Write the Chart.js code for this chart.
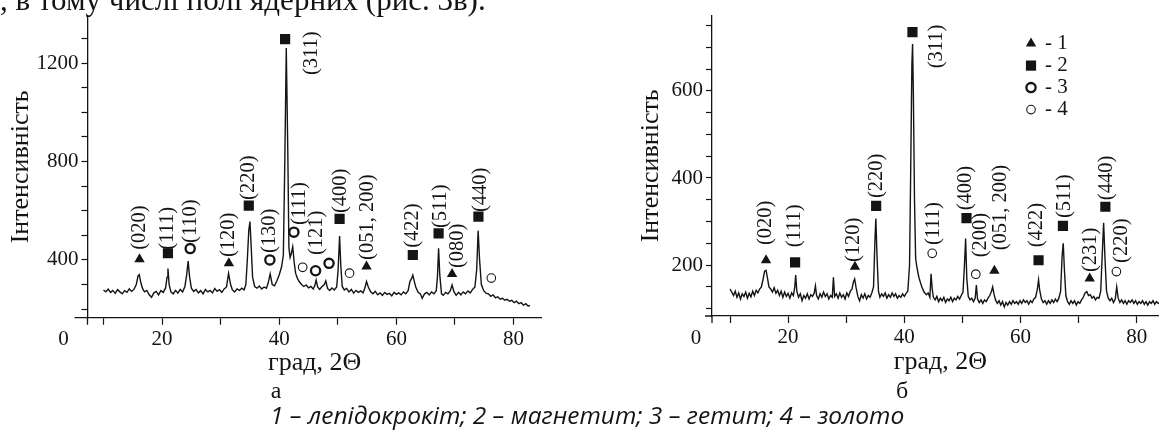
<!DOCTYPE html>
<html>
<head>
<meta charset="utf-8">
<script src="https://cdn.jsdelivr.net/npm/chart.js@4.4.1/dist/chart.umd.min.js"></script>
<style>
html, body { margin:0; padding:0; background:#fff; width:1159px; height:433px; overflow:hidden; }
body { position:relative; font-family:"Liberation Serif", "Times New Roman", serif; color:#141414; }
.txt { position:absolute; white-space:nowrap; z-index:2; }
#top { left:0; top:-16.5px; font-size:31px; line-height:31px; }
.sub { top:378px; font-size:24px; line-height:24px; transform:translateX(-50%); }
#subA { left:276px; }
#subB { left:902px; }
#caption { left:270px; top:403px; font-family:"Open Sans", sans-serif; font-style:italic; font-size:24.5px; line-height:24.5px; }
canvas { position:absolute; top:0; }
#chartA { left:0; }
#chartB { left:620px; }
</style>
</head>
<body>
<div class="txt" id="top">, в тому числі полі ядерних (рис. 3в).</div>
<canvas id="chartA" width="560" height="380"></canvas>
<canvas id="chartB" width="560" height="380"></canvas>
<div class="txt sub" id="subA">а</div>
<div class="txt sub" id="subB">б</div>
<div class="txt" id="caption">1 – лепідокрокіт; 2 – магнетит; 3 – гетит; 4 – золото</div>
<script>
// ---- рис. а : дифрактограма ----
const thetaA = [10.0,10.4,10.8,11.2,11.6,12.0,12.4,12.8,13.2,13.6,14.0,14.4,14.8,15.2,15.6,15.9,16.1,16.4,16.7,17.0,
  17.4,17.8,18.2,18.6,19.0,19.4,19.8,20.2,20.6,20.85,21.0,21.2,21.5,21.9,22.3,22.7,23.1,23.5,23.9,24.2,
  24.45,24.7,25.0,25.4,25.8,26.2,26.6,27.0,27.4,27.8,28.2,28.6,29.0,29.4,29.8,30.2,30.6,31.0,31.35,31.7,
  32.0,32.4,32.8,33.2,33.6,34.0,34.3,34.55,34.8,35.0,35.2,35.45,35.8,36.2,36.6,37.0,37.4,37.8,38.1,38.45,
  38.8,39.2,39.6,40.0,40.4,40.7,40.95,41.2,41.45,41.65,41.85,42.05,42.3,42.55,42.8,43.1,43.4,43.8,44.2,44.6,
  45.0,45.4,45.8,46.1,46.3,46.55,46.9,47.3,47.7,47.95,48.25,48.6,49.0,49.4,49.8,50.05,50.3,50.5,50.75,51.1,
  51.5,51.9,52.3,52.7,53.1,53.5,53.9,54.3,54.6,54.9,55.2,55.6,56.0,56.4,56.8,57.2,57.6,58.0,58.4,58.8,
  59.2,59.6,60.0,60.4,60.8,61.2,61.6,62.0,62.3,62.6,62.8,63.0,63.3,63.7,64.1,64.4,64.8,65.2,65.6,66.0,
  66.4,66.8,67.0,67.2,67.4,67.7,68.0,68.4,68.8,69.2,69.5,69.8,70.2,70.6,71.0,71.4,71.8,72.2,72.6,73.0,
  73.4,73.7,73.95,74.2,74.5,74.9,75.3,75.7,76.1,76.5,76.9,77.3,77.7,78.1,78.5,78.9,79.3,79.7,80.1,80.5,
  80.9,81.3,81.7,82.1,82.5,82.8];
const intA = [278,270,281,268,276,264,279,270,262,275,268,282,272,280,300,335,340,305,282,270,
  276,258,248,266,272,258,275,268,286,330,365,300,270,262,276,265,280,270,292,340,
  395,330,285,272,280,266,275,262,280,270,276,266,284,272,279,268,282,290,345,300,
  278,270,282,276,285,278,300,400,520,556,460,330,292,285,294,282,290,285,305,343,
  300,295,315,340,372,420,800,1262,860,450,410,425,454,390,345,325,312,300,292,298,
  286,292,282,298,318,290,280,292,300,315,284,276,286,278,290,360,497,380,292,278,
  284,270,280,265,276,268,274,266,285,312,290,270,262,272,258,266,256,268,260,264,
  254,268,260,266,258,270,262,275,312,325,338,318,290,268,262,244,262,268,258,270,
  262,275,330,447,340,262,256,268,262,275,298,272,256,268,258,270,262,274,266,280,
  290,360,519,400,300,275,265,262,252,258,246,250,240,244,236,240,232,236,226,232,
  222,226,216,222,212,215];

// фази, рис. а
const lepThetaA = [16.15, 31.4, 54.9, 69.5];
const lepIntA = [403, 386, 373, 343];
const magThetaA = [21.0, 34.8, 41.0, 50.3, 62.8, 67.2, 74.0];
const magIntA = [427, 621, 1298, 567, 420, 508, 576];
const gthThetaA = [24.8, 38.4, 42.5, 46.2, 48.5];
const gthIntA = [446, 400, 513, 356, 386];
const auThetaA = [44.0, 52.0, 76.2];
const auIntA = [370, 346, 326];

// індекси (hkl), рис. а
const hklA = ['(020)','(111)','(110)','(120)','(220)','(130)','(311)','(111)','(121)','(400)','(051, 200)','(422)','(511)','(080)','(440)'];
const hklThetaA = [16.15, 20.95, 24.8, 31.3, 34.85, 38.4, 45.5, 43.4, 46.3, 50.5, 55.1, 62.8, 67.5, 70.45, 74.3];
const hklIntA = [441, 441, 469, 412, 644, 428, 1152, 542, 420, 591, 400, 449, 530, 367, 595];

// ---- рис. б : дифрактограма ----
const thetaB = [10.0,10.3,10.6,10.9,11.2,11.5,11.8,12.1,12.4,12.7,13.0,13.3,13.6,13.9,14.2,14.5,14.8,15.1,15.4,15.7,
  15.95,16.2,16.45,16.7,17.0,17.3,17.6,17.9,18.2,18.5,18.8,19.1,19.4,19.7,20.0,20.3,20.6,20.9,21.15,21.3,
  21.5,21.8,22.1,22.4,22.7,23.0,23.3,23.6,23.9,24.2,24.5,24.7,24.9,25.2,25.5,25.8,26.1,26.4,26.7,27.0,
  27.3,27.6,27.8,28.0,28.3,28.6,28.9,29.2,29.5,29.8,30.1,30.4,30.7,31.0,31.25,31.45,31.7,32.0,32.3,32.6,
  32.9,33.2,33.5,33.8,34.1,34.4,34.7,34.95,35.1,35.3,35.55,35.8,36.1,36.4,36.7,37.0,37.3,37.6,37.9,38.2,
  38.5,38.8,39.1,39.4,39.7,40.0,40.3,40.6,40.9,41.1,41.3,41.42,41.55,41.75,41.95,42.15,42.5,43.0,43.4,43.8,
  44.1,44.4,44.6,44.8,45.0,45.3,45.6,45.9,46.2,46.5,46.8,47.1,47.4,47.7,48.0,48.3,48.6,48.9,49.2,49.5,
  49.8,50.1,50.35,50.55,50.75,51.0,51.3,51.6,51.9,52.2,52.4,52.6,52.9,53.2,53.5,53.8,54.1,54.4,54.7,55.0,
  55.2,55.45,55.7,56.0,56.3,56.6,56.9,57.2,57.5,57.8,58.1,58.4,58.7,59.0,59.3,59.6,59.9,60.2,60.5,60.8,
  61.1,61.4,61.7,62.0,62.3,62.6,62.9,63.1,63.3,63.6,63.9,64.2,64.5,64.8,65.1,65.4,65.7,66.0,66.3,66.6,
  66.9,67.15,67.35,67.55,67.8,68.1,68.4,68.7,69.0,69.3,69.6,69.9,70.2,70.5,70.8,71.1,71.4,71.7,72.0,72.3,
  72.6,72.9,73.2,73.5,73.8,74.05,74.3,74.55,74.8,75.1,75.4,75.7,76.0,76.3,76.55,76.8,77.1,77.4,77.7,78.0,
  78.3,78.6,78.9,79.2,79.5,79.8,80.1,80.4,80.7,81.0,81.3,81.6,81.9,82.2,82.5,82.8,83.1,83.4,83.7,84.0,
  84.3,84.6,85.0];
const intB = [145,138,130,140,126,136,122,134,128,138,124,135,127,140,130,142,136,145,150,168,
  186,188,170,150,145,138,148,135,142,130,140,126,138,128,135,124,136,130,150,177,
  140,126,134,118,130,124,134,122,132,128,136,152,130,122,134,126,138,128,134,122,
  130,126,172,128,134,124,136,126,132,122,136,128,140,145,162,168,148,128,118,132,
  124,134,122,130,126,136,150,260,307,220,140,126,134,128,136,124,132,126,136,128,
  134,124,130,126,134,128,135,140,200,420,660,708,600,350,215,196,172,150,138,132,
  136,126,180,145,126,120,128,116,124,118,126,114,122,118,126,116,124,120,128,122,
  130,138,200,261,170,128,120,124,116,124,154,122,114,120,112,120,116,124,130,140,
  150,132,120,112,118,108,116,104,114,108,116,110,118,112,116,110,118,112,120,114,
  118,110,118,114,122,126,145,166,142,122,114,118,110,118,112,120,114,122,116,124,
  140,220,250,190,130,116,110,118,112,118,108,116,112,120,126,136,139,130,132,124,
  128,120,126,124,140,220,297,210,140,124,118,124,114,122,150,124,114,120,112,118,
  110,118,114,120,112,118,110,116,112,118,110,116,108,116,112,118,110,116,112,114,
  110,116,112];

// фази, рис. б
const lepThetaB = [16.2, 31.5, 55.5, 71.9];
const lepIntB = [211, 196, 187, 169];
const magThetaB = [21.2, 35.15, 41.4, 50.7, 63.1, 67.3, 74.6];
const magIntB = [206, 336, 735, 308, 211, 290, 334];
const auThetaB = [44.8, 52.3, 76.5];
const auIntB = [227, 179, 185];

// індекси (hkl), рис. б
const hklB = ['(020)','(111)','(120)','(220)','(311)','(111)','(400)','(200)','(051, 200)','(422)','(511)','(231)','(440)','(220)'];
const hklThetaB = [16.2, 21.2, 31.25, 35.3, 45.6, 45.06, 50.5, 53.05, 56.5, 62.8, 67.6, 72.0, 74.85, 77.4];
const hklIntB = [246, 241, 207, 354, 652, 246, 326, 218, 234, 241, 308, 184, 349, 205];

// легенда
const legendText = ['- 1', '- 2', '- 3', '- 4'];

const ink = '#141414';
const serif = '"Liberation Serif", "Times New Roman", serif';

function toXY(xs, ys) {
  return xs.map((v, i) => ({x: v, y: ys[i]}));
}

// стилі маркерів фаз
const lepStyle = {pointStyle: 'triangle', pointRadius: 6, pointBackgroundColor: ink, pointBorderWidth: 0};
const magStyle = {pointStyle: 'rect', pointRadius: 7.2, pointBackgroundColor: ink, pointBorderWidth: 0};
const gthStyle = {pointStyle: 'circle', pointRadius: 4.6, pointBackgroundColor: 'rgba(0,0,0,0)', pointBorderColor: ink, pointBorderWidth: 2.3};
const auStyle = {pointStyle: 'circle', pointRadius: 4.3, pointBackgroundColor: 'rgba(0,0,0,0)', pointBorderColor: ink, pointBorderWidth: 1.1};

function markers(xs, ys, st) {
  return Object.assign({data: toXY(xs, ys), showLine: false, order: 0}, st);
}

//підписи (hkl) повернуті на 90 градусів
function hklPlugin(text, theta, level) {
  return {
    id: 'hkl',
    afterDatasetsDraw(chart) {
      const {ctx, scales} = chart;
      ctx.save();
      ctx.fillStyle = ink;
      ctx.font = '20.5px ' + serif;
      ctx.textAlign = 'left';
      ctx.textBaseline = 'middle';
      for (let i = 0; i < text.length; i++) {
        ctx.save();
        ctx.translate(scales.x.getPixelForValue(theta[i]), scales.y.getPixelForValue(level[i]));
        ctx.rotate(-Math.PI / 2);
        ctx.fillText(text[i], 0, 0);
        ctx.restore();
      }
      ctx.restore();
    }
  };
}

// хвостики осей і підпис "0"
function axisExtras(leftExt, zeroGap) {
  return {
    id: 'axisExtras',
    afterDraw(chart) {
      const {ctx, chartArea: a} = chart;
      ctx.save();
      ctx.strokeStyle = ink;
      ctx.lineWidth = 1.3;
      ctx.beginPath();
      ctx.moveTo(a.left - leftExt, a.bottom);
      ctx.lineTo(a.left, a.bottom);
      ctx.moveTo(a.left, a.bottom);
      ctx.lineTo(a.left, a.bottom + 7);
      ctx.stroke();
      ctx.fillStyle = ink;
      ctx.font = '21px ' + serif;
      ctx.textAlign = 'center';
      ctx.textBaseline = 'middle';
      ctx.fillText('0', a.left - zeroGap, a.bottom + 22);
      ctx.restore();
    }
  };
}

// легенда для рис. б
const legendPlugin = {
  id: 'legendB',
  afterDraw(chart) {
    const {ctx, chartArea: a} = chart;
    const styles = [lepStyle, magStyle, gthStyle, auStyle];
    ctx.save();
    for (let i = 0; i < styles.length; i++) {
      const st = styles[i];
      const y = a.top + 28 + i * 22;
      const x = a.left + 319;
      ctx.fillStyle = st.pointBackgroundColor;
      ctx.strokeStyle = ink;
      ctx.lineWidth = st.pointBorderWidth;
      Chart.helpers.drawPoint(ctx, {pointStyle: st.pointStyle, radius: st.pointRadius, borderWidth: st.pointBorderWidth, rotation: 0}, x, y);
      ctx.fillStyle = ink;
      ctx.font = '21px ' + serif;
      ctx.textAlign = 'left';
      ctx.textBaseline = 'middle';
      ctx.fillText(legendText[i], x + 14, y);
    }
    ctx.restore();
  }
};

function axes(xr, yr, step, labelled, yWidth, xHeight, yTitlePad, xTitlePad) {
  const tickFont = {family: serif, size: 21};
  const titleFont = {family: serif, size: 26};
  return {
    x: {
      type: 'linear', min: xr[0], max: xr[1],
      border: {color: ink, width: 1.3},
      grid: {drawOnChartArea: false, drawTicks: true, tickLength: 7, tickColor: ink, tickWidth: 1.2},
      ticks: {stepSize: 10, includeBounds: false, autoSkip: false, maxRotation: 0, color: ink, font: tickFont, padding: 2,
        callback: v => (v % 20 === 0 ? String(v) : '')},
      title: {display: true, text: 'град, 2Θ', color: ink, font: titleFont, padding: {top: xTitlePad, bottom: xTitlePad}},
      afterFit: s => { s.height = xHeight; }
    },
    y: {
      type: 'linear', min: yr[0], max: yr[1],
      border: {color: ink, width: 1.3},
      grid: {drawOnChartArea: false, drawTicks: true, tickLength: 6, tickColor: ink, tickWidth: 1.2},
      ticks: {stepSize: step, includeBounds: false, autoSkip: false, color: ink, font: tickFont, padding: 3,
        callback: v => (labelled.includes(v) ? String(v) : '')},
      title: {display: true, text: 'Інтенсивність', color: ink, font: titleFont, padding: {top: yTitlePad, bottom: yTitlePad}},
      afterFit: s => { s.width = yWidth; }
    }
  };
}

const common = {
  responsive: false,
  animation: false,
  events: [],
  plugins: {legend: {display: false}, tooltip: {enabled: false}}
};

new Chart(document.getElementById('chartA'), {
  type: 'scatter',
  data: {
    datasets: [
      {data: toXY(thetaA, intA), showLine: true, borderColor: ink, borderWidth: 1.4, pointRadius: 0, order: 1},
      markers(lepThetaA, lepIntA, lepStyle),
      markers(magThetaA, magIntA, magStyle),
      markers(gthThetaA, gthIntA, gthStyle),
      markers(auThetaA, auIntA, auStyle)
    ]
  },
  options: Object.assign({}, common, {
    layout: {padding: {top: 16, right: 18.3, left: 0, bottom: 0}},
    scales: axes([7.27, 84.8], [165, 1392], 100, [400, 800, 1200], 87.5, 62.3, 5.5, 1.5)
  }),
  plugins: [hklPlugin(hklA, hklThetaA, hklIntA), axisExtras(13, 24)]
});

new Chart(document.getElementById('chartB'), {
  type: 'scatter',
  data: {
    datasets: [
      {data: toXY(thetaB, intB), showLine: true, borderColor: ink, borderWidth: 1.4, pointRadius: 0, order: 1},
      markers(lepThetaB, lepIntB, lepStyle),
      markers(magThetaB, magIntB, magStyle),
      markers(auThetaB, auIntB, auStyle)
    ]
  },
  options: Object.assign({}, common, {
    layout: {padding: {top: 15, right: 11.3, left: 0, bottom: 0}},
    scales: axes([6.9, 85.5], [83, 773], 50, [200, 400, 600], 92, 64, 16, 2.5)
  }),
  plugins: [hklPlugin(hklB, hklThetaB, hklIntB), axisExtras(7, 16), legendPlugin]
});
</script>
</body>
</html>
